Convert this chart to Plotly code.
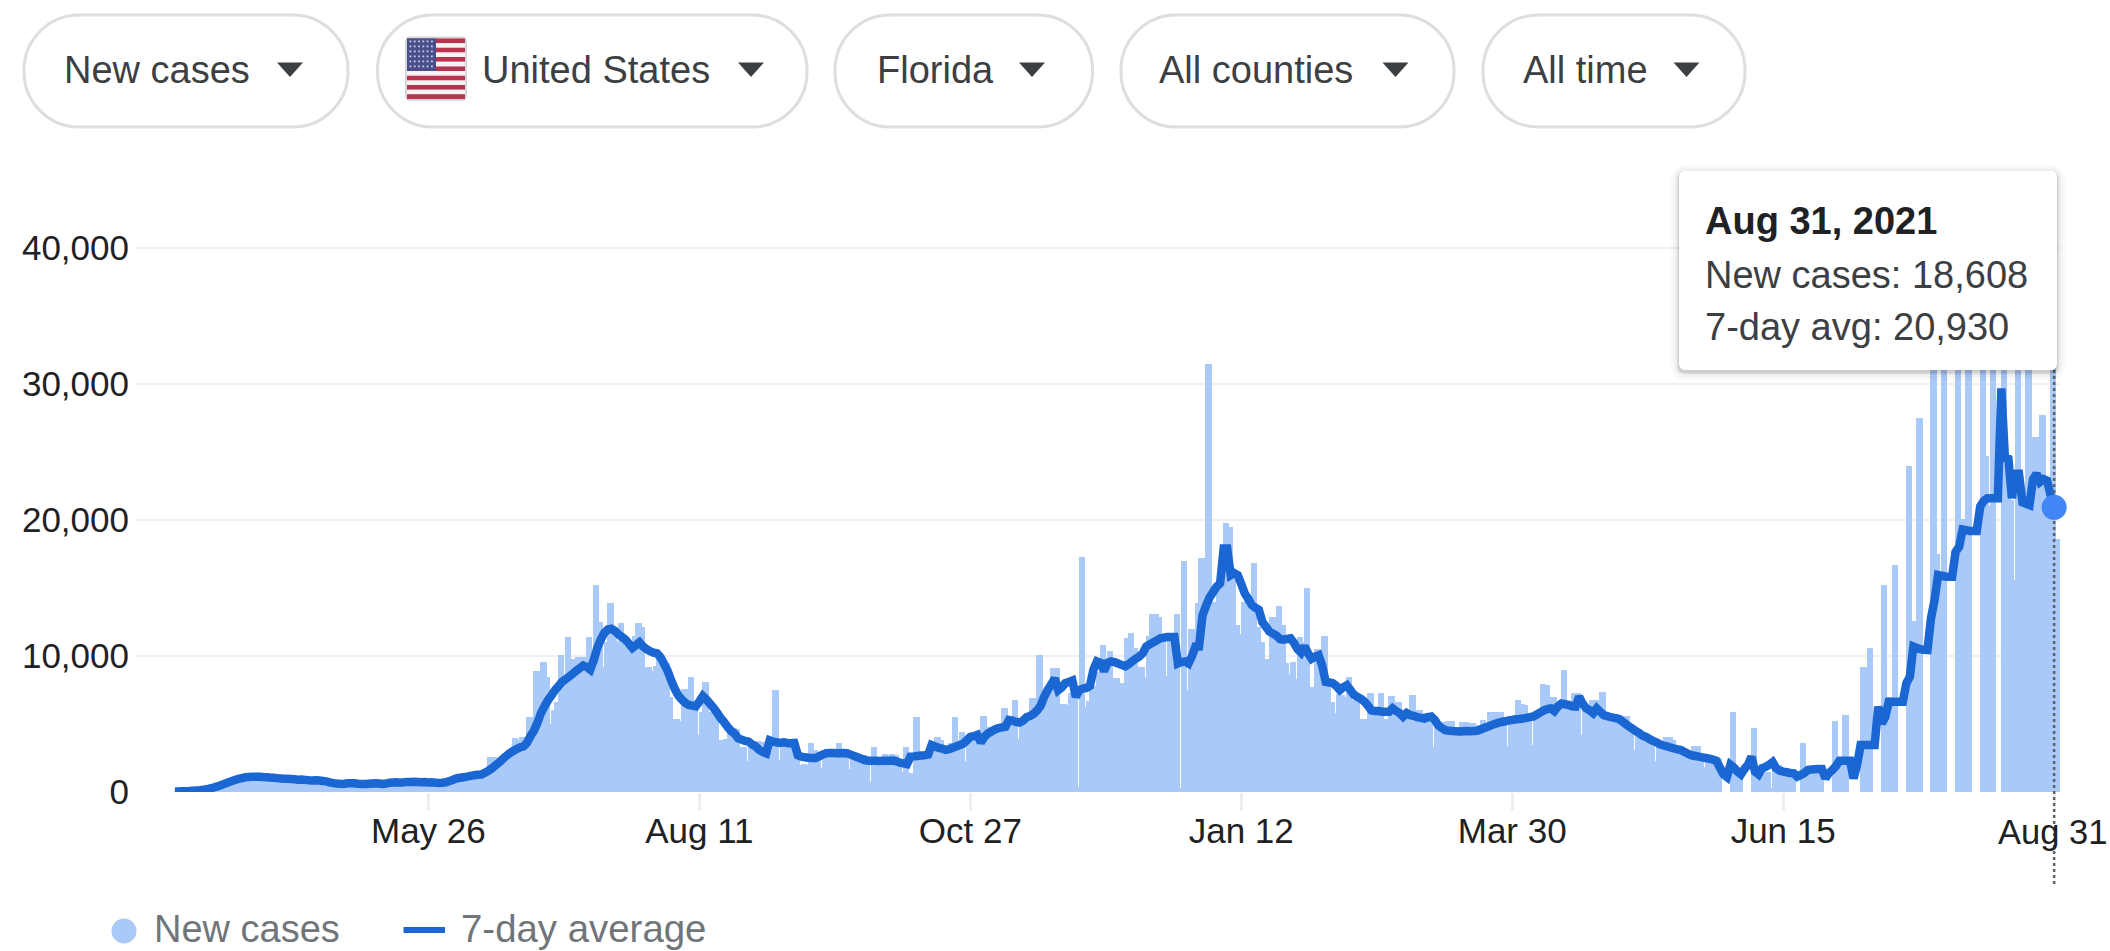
import pandas as pd
import plotly.graph_objects as go

first_day = "2020-03-15"
new_cases = [
40,50,60,60,100,120,150,180,200,250,
300,370,480,600,720,830,900,1000,1050,1100,
1150,1180,1200,1130,1160,1100,1130,1050,1080,1040,
1000,1050,980,1030,950,880,960,900,870,890,
910,860,800,830,720,680,640,610,640,680,
700,650,640,620,590,650,640,680,640,590,
650,720,740,770,700,750,780,750,800,750,
700,770,690,760,680,640,700,740,880,960,
1050,1080,1130,1180,1260,1300,1320,1350,1480,2560,
2550,2000,2100,2840,2700,2900,3950,3800,4070,3700,
5540,5000,8900,7500,9550,8480,5000,6030,6640,10070,
8200,11400,9800,6400,9900,9900,9900,11370,10000,15240,
12500,9200,11000,13900,12100,11000,12400,10700,9450,10800,
11500,12400,12100,9200,9200,8900,9300,10000,9600,9500,
7000,5400,5400,5200,7600,7600,8480,6000,4200,5900,
8080,5900,5800,5600,3800,2700,3900,4680,4680,4650,
3300,3300,2300,3300,3770,3770,3700,3300,3000,1860,
7500,2350,3400,3500,3400,3300,3200,1980,2050,2000,
3620,3100,2900,1740,2700,2750,2900,2800,3570,3100,
2900,1700,2700,2700,2600,2700,2600,760,3280,2500,
2400,2800,2750,2800,2700,2400,1500,3280,1370,100,
5540,1500,2900,3000,3100,3300,4070,3800,3200,2100,
3600,5540,3500,4430,2300,3800,4000,4100,4200,5600,
2350,4800,4800,4700,4900,6200,5000,5100,6760,3900,
5300,5200,5500,6880,4500,10070,4600,7000,8000,9090,
9090,6500,6500,6400,7300,7000,400,17300,6270,6700,
7500,7800,8800,10800,9500,10400,8350,8350,8000,8000,
11300,11660,10560,9200,9200,8400,11470,13080,13080,12900,
11540,8500,11500,11500,13080,300,17000,7500,12000,12000,
13870,17170,300,31500,11300,14000,14800,16000,19780,19500,
16000,12300,11600,14000,14500,14500,16860,12150,11050,8000,
9750,12900,12900,13670,12270,9450,8700,9580,8300,11400,
11000,15020,7740,5780,10500,7000,11490,7740,6640,5780,
7200,7100,7000,8480,6760,6760,5400,5400,3700,7300,
5100,5900,7250,5400,4160,7080,6640,6590,5900,5800,
1740,7130,6000,6000,5800,5300,5200,3300,4800,5100,
5170,5200,5240,2960,4600,5120,5120,5050,5100,2840,
4900,5290,5000,5850,5850,5800,5850,5400,3380,5100,
5400,6760,6500,6400,5600,3450,5500,5800,7940,7900,
7000,7000,1620,6400,9000,6500,6400,7250,7250,4190,
6000,6100,6760,6760,6000,7370,3500,5600,5400,5660,
5660,5600,5600,4900,3090,4500,4400,4300,4100,3900,
2280,3700,3500,4070,4070,3800,3300,1980,3000,2900,
2800,3380,3380,2700,1860,2600,2600,2500,2500,0,
0,0,5900,1500,1500,0,0,0,4700,1300,
1250,1400,1500,300,1900,2000,1600,1500,1400,1300,
0,0,3630,1700,1750,1800,1850,1860,0,0,
0,5200,1900,2000,5660,0,0,0,0,9160,
9160,10600,0,0,0,15200,7000,7000,16700,0,
0,0,24000,12600,12600,27500,0,0,0,33500,
17500,16000,33000,0,0,0,34500,20100,17000,34000,
0,0,0,36000,24700,21000,35000,0,0,33000,
22000,21500,15600,33000,22000,12600,33000,26100,26100,22000,
27700,22000,22000,32000,18608]

seven_day_avg = [
30,40,50,60,70,90,110,130,160,200,
260,330,410,500,600,700,790,880,960,1020,
1080,1110,1130,1130,1120,1100,1090,1060,1040,1020,
1000,980,970,950,930,900,920,890,860,840,
870,840,810,780,700,650,620,600,590,640,
650,640,610,590,580,600,620,640,620,590,
620,680,700,720,690,710,740,730,760,740,
720,730,700,720,690,660,680,710,800,900,
1000,1050,1090,1130,1180,1230,1270,1290,1400,1550,
1720,1950,2150,2400,2620,2830,3000,3150,3280,3350,
3600,4100,4500,5100,5800,6300,6750,7100,7500,7800,
8100,8300,8480,8700,8900,9100,9300,9200,9000,9700,
10600,11200,11700,11950,12000,11850,11600,11400,11200,10900,
10600,10800,11000,10700,10500,10350,10250,10200,9900,9400,
8900,8200,7600,7100,6800,6550,6400,6350,6300,6650,
7050,6800,6500,6200,5850,5450,5150,4800,4500,4300,
3950,3850,3750,3700,3500,3350,3100,2950,2850,3800,
3700,3650,3600,3650,3600,3580,3600,2700,2600,2550,
2520,2500,2500,2620,2750,2850,2870,2860,2850,2850,
2860,2850,2750,2650,2550,2450,2350,2300,2300,2290,
2280,2300,2290,2300,2320,2250,2150,2100,2050,2600,
2620,2650,2680,2700,2750,3450,3350,3250,3200,3100,
3150,3250,3350,3450,3550,3800,4050,4100,4200,3650,
4050,4300,4450,4600,4700,4750,4800,5300,5250,5150,
5100,5250,5500,5600,5750,6000,6350,7000,7500,7900,
8350,7500,7700,8000,8100,8200,7000,7500,7600,7650,
7800,9000,9600,9500,8900,9500,9600,9550,9450,9350,
9250,9400,9600,9800,9950,10200,10700,10850,11000,11150,
11300,11350,11400,11400,11400,9450,9550,9600,9450,10000,
10700,10700,13000,13700,14300,14700,15100,15350,17900,17900,
15950,16100,15950,15300,14600,14200,13750,13550,13400,12500,
12150,11800,11650,11500,11250,11200,11250,11300,10950,10500,
10250,10700,10200,9800,9950,10050,9300,8100,8050,8000,
7800,7500,7700,7850,7500,7150,7000,6850,6650,6350,
6000,5950,5950,5900,5900,5900,6150,5950,5800,5550,
5800,5650,5600,5500,5450,5400,5500,5550,5300,4900,
4700,4550,4500,4480,4470,4450,4470,4480,4460,4480,
4500,4600,4700,4800,4900,5000,5080,5150,5200,5260,
5300,5350,5370,5400,5450,5500,5550,5700,5850,6000,
6100,6150,5950,6300,6500,6450,6400,6300,6280,7000,
6500,6150,6000,5800,6150,5900,5650,5580,5500,5450,
5400,5250,5050,4850,4680,4500,4350,4150,4050,3900,
3750,3650,3500,3420,3350,3270,3200,3130,3080,2950,
2800,2700,2650,2600,2550,2500,2450,2380,2300,1800,
1300,1100,2000,1800,1500,1300,1700,2000,2600,1500,
1300,1750,1850,2000,2200,1750,1570,1500,1450,1400,
1370,1130,1250,1400,1620,1660,1680,1700,1700,1000,
1400,1620,1900,2300,2300,2300,2300,1000,2000,3450,
3450,3450,3450,3450,6270,5050,5500,6640,6640,6640,
6640,6640,8000,8480,10700,10600,10500,10450,10440,12760,
14100,15950,15900,15850,15830,15830,17660,18030,19300,19250,
19200,19200,19200,21000,21400,21600,21600,21600,21600,29670,
24600,24500,21600,23400,23400,21300,21200,21100,23000,23400,
22800,23000,22900,21800,20930]

tick_dates = ["2020-05-26","2020-08-11","2020-10-27","2021-01-12","2021-03-30","2021-06-15","2021-08-31"]
tick_labels = ["May 26","Aug 11","Oct 27","Jan 12","Mar 30","Jun 15","Aug 31"]
y_ticks = [0,10000,20000,30000,40000]
pill_labels = ["New cases","United States","Florida","All counties","All time"]
tooltip_title = "Aug 31, 2021"
tooltip_lines = ["New cases: 18,608","7-day avg: 20,930"]
legend_labels = ["New cases","7-day average"]

assert len(new_cases) == len(seven_day_avg) == 535
dates = pd.date_range(first_day, periods=len(new_cases), freq="D")

# ---- page geometry ----
W, H = 2110, 951
L, R, T, B = 135, 2060, 180, 792
PX_PER_DAY = 3.519
FIRST_X = 175
DAY_MS = 86400000
FONT = "Liberation Sans"
BAR = "#a9c9f8"; LINE = "#1a66d2"; DOT = "#4285f4"

t0 = pd.Timestamp(first_day)
x_lo = t0 + pd.Timedelta(days=(L-FIRST_X)/PX_PER_DAY)
x_hi = t0 + pd.Timedelta(days=(R-FIRST_X)/PX_PER_DAY)

def fx(x): return (x-L)/(R-L)
def fy(y): return (B-y)/(B-T)

shapes, annots = [], []

def rect(x0,y0,x1,y1,fill,line=None,lw=0,layer="above",opacity=1):
    shapes.append(dict(type="rect",xref="paper",yref="paper",x0=fx(x0),x1=fx(x1),y0=fy(y1),y1=fy(y0),
                       fillcolor=fill,opacity=opacity,layer=layer,line=dict(color=line or fill,width=lw)))

def rrect_path(x0,y0,x1,y1,r):
    k = 0.45*r
    P = lambda x,y: f"{fx(x):.6f},{fy(y):.6f}"
    return (f"M{P(x0+r,y0)} L{P(x1-r,y0)} C{P(x1-k,y0)} {P(x1,y0+k)} {P(x1,y0+r)} "
            f"L{P(x1,y1-r)} C{P(x1,y1-k)} {P(x1-k,y1)} {P(x1-r,y1)} "
            f"L{P(x0+r,y1)} C{P(x0+k,y1)} {P(x0,y1-k)} {P(x0,y1-r)} "
            f"L{P(x0,y0+r)} C{P(x0,y0+k)} {P(x0+k,y0)} {P(x0+r,y0)} Z")

def rrect(x0,y0,x1,y1,r,fill,line=None,lw=0,opacity=1):
    shapes.append(dict(type="path",xref="paper",yref="paper",path=rrect_path(x0,y0,x1,y1,r),
                       fillcolor=fill,opacity=opacity,layer="above",
                       line=dict(color=line or fill,width=lw)))

def text(x,y,s,size,color,bold=False,anchor="left"):
    annots.append(dict(xref="paper",yref="paper",x=fx(x),y=fy(y),text=f"<b>{s}</b>" if bold else s,
                       showarrow=False,xanchor=anchor,yanchor="middle",align="left",borderpad=0,
                       font=dict(family=FONT,size=size,color=color)))

# ---- filter pills ----
pills = [(24,348,63.2,277),(377.5,807,480.7,738),(835,1092.5,875.7,1019),(1121,1454,1158.2,1382.5),(1483,1745,1521.7,1673.5)]
for (x0,x1,tx,ax),lab in zip(pills,pill_labels):
    rrect(x0,15,x1,127,55,"#ffffff","#dcdee2",3)
    text(tx,70,lab,38,"#3c4043")
    shapes.append(dict(type="path",xref="paper",yref="paper",layer="above",fillcolor="#3c4043",line=dict(width=0),
        path=f"M{fx(ax):.6f},{fy(62.5):.6f} L{fx(ax+26):.6f},{fy(62.5):.6f} L{fx(ax+13):.6f},{fy(77):.6f} Z"))

# ---- flag ----
fl_x0, fl_x1, fl_y0, fl_y1 = 407, 465, 38.5, 99
rrect(fl_x0-2,fl_y0-2,fl_x1+2,fl_y1+2,5,"#d5d6da")
sh = (fl_y1-fl_y0)/13
for s in range(13):
    rect(fl_x0,fl_y0+s*sh,fl_x1,fl_y0+(s+1)*sh,"#b8334d" if s%2==0 else "#f7f3f3")
rect(fl_x0,fl_y0,fl_x0+29,fl_y0+7*sh,"#4a4f8c")
for r_ in range(6):
    for c_ in range(6):
        rect(fl_x0+2.5+c_*4.3,fl_y0+2+r_*5,fl_x0+4.3+c_*4.3,fl_y0+3.8+r_*5,"#c8cbe6")

# ---- legend ----
shapes.append(dict(type="circle",xref="paper",yref="paper",layer="above",fillcolor=BAR,line=dict(width=0),
                   x0=fx(111.5),x1=fx(136.5),y0=fy(943.5),y1=fy(918.5)))
rect(403.5,927,445,933,LINE)
text(153.2,928.5,legend_labels[0],38,"#70757a")
text(459.5,928.5,legend_labels[1],38.4,"#70757a")

# ---- hover rule ----
hover_day = tick_dates[-1]
for a,b in [(370,494),(521,884)]:
    shapes.append(dict(type="line",xref="x",yref="paper",x0=hover_day,x1=hover_day,y0=fy(a),y1=fy(b),layer="above",
                       line=dict(color="#5f6368",width=2.5,dash="dot")))

# ---- tooltip ----
for g,op in [(9,0.012),(7,0.016),(5,0.022),(3,0.03),(2,0.05),(1,0.07)]:
    rrect(1679-g,171-g+2,2057+g,370+g+2,6+g,"#000000",opacity=op)
rrect(1679,171,2057,370,6,"#ffffff")
text(1704,221,tooltip_title,38,"#202124",bold=True)
text(1704,274.5,tooltip_lines[0],38,"#3c4043")
text(1704,327,tooltip_lines[1],38,"#3c4043")

# last tick label sits left of its tick so it stays on the page
annots.append(dict(xref="x",yref="paper",x=tick_dates[-1],y=fy(832),xshift=-2,text=tick_labels[-1],showarrow=False,
                   xanchor="center",yanchor="middle",borderpad=0,font=dict(family=FONT,size=34.5,color="#202124")))

fig = go.Figure()
fig.add_bar(x=dates,y=new_cases,name=legend_labels[0],marker=dict(color=BAR,line=dict(width=0)),
            width=[1.82*DAY_MS]*len(dates),offset=[-0.21*DAY_MS]*len(dates),hoverinfo="skip")
fig.add_scatter(x=dates,y=seven_day_avg,mode="lines",name=legend_labels[1],
                line=dict(color=LINE,width=8.5,shape="linear",simplify=False),hoverinfo="skip")
fig.add_scatter(x=[dates[-1]],y=[seven_day_avg[-1]],mode="markers",showlegend=False,
                marker=dict(color=DOT,size=25,line=dict(width=0)),hoverinfo="skip",cliponaxis=False)

fig.update_layout(
    width=W,height=H,autosize=False,showlegend=False,paper_bgcolor="#ffffff",plot_bgcolor="#ffffff",
    margin=dict(l=L,r=W-R,t=T,b=H-B,pad=0),bargap=0,barmode="overlay",
    shapes=shapes,annotations=annots,font=dict(family=FONT,size=35,color="#202124"),
    xaxis=dict(type="date",range=[x_lo,x_hi],tickmode="array",tickvals=tick_dates,ticktext=tick_labels[:-1]+[""],
               showgrid=False,zeroline=False,showline=False,ticks="outside",ticklen=18,tickwidth=2.5,tickcolor="#eeeeee",
               tickfont=dict(family=FONT,size=35,color="#202124"),ticklabelstandoff=-10),
    yaxis=dict(range=[0,45000],tickmode="array",tickvals=y_ticks,tickformat=",",
               showgrid=True,gridcolor="#f0f0f0",gridwidth=2,zeroline=False,showline=False,ticks="",
               tickfont=dict(family=FONT,size=35,color="#202124"),ticklabelstandoff=5),
)
fig.write_html("out.html",config={"displayModeBar":False},
               post_script="document.body.style.margin='0';document.body.style.overflow='hidden';")
